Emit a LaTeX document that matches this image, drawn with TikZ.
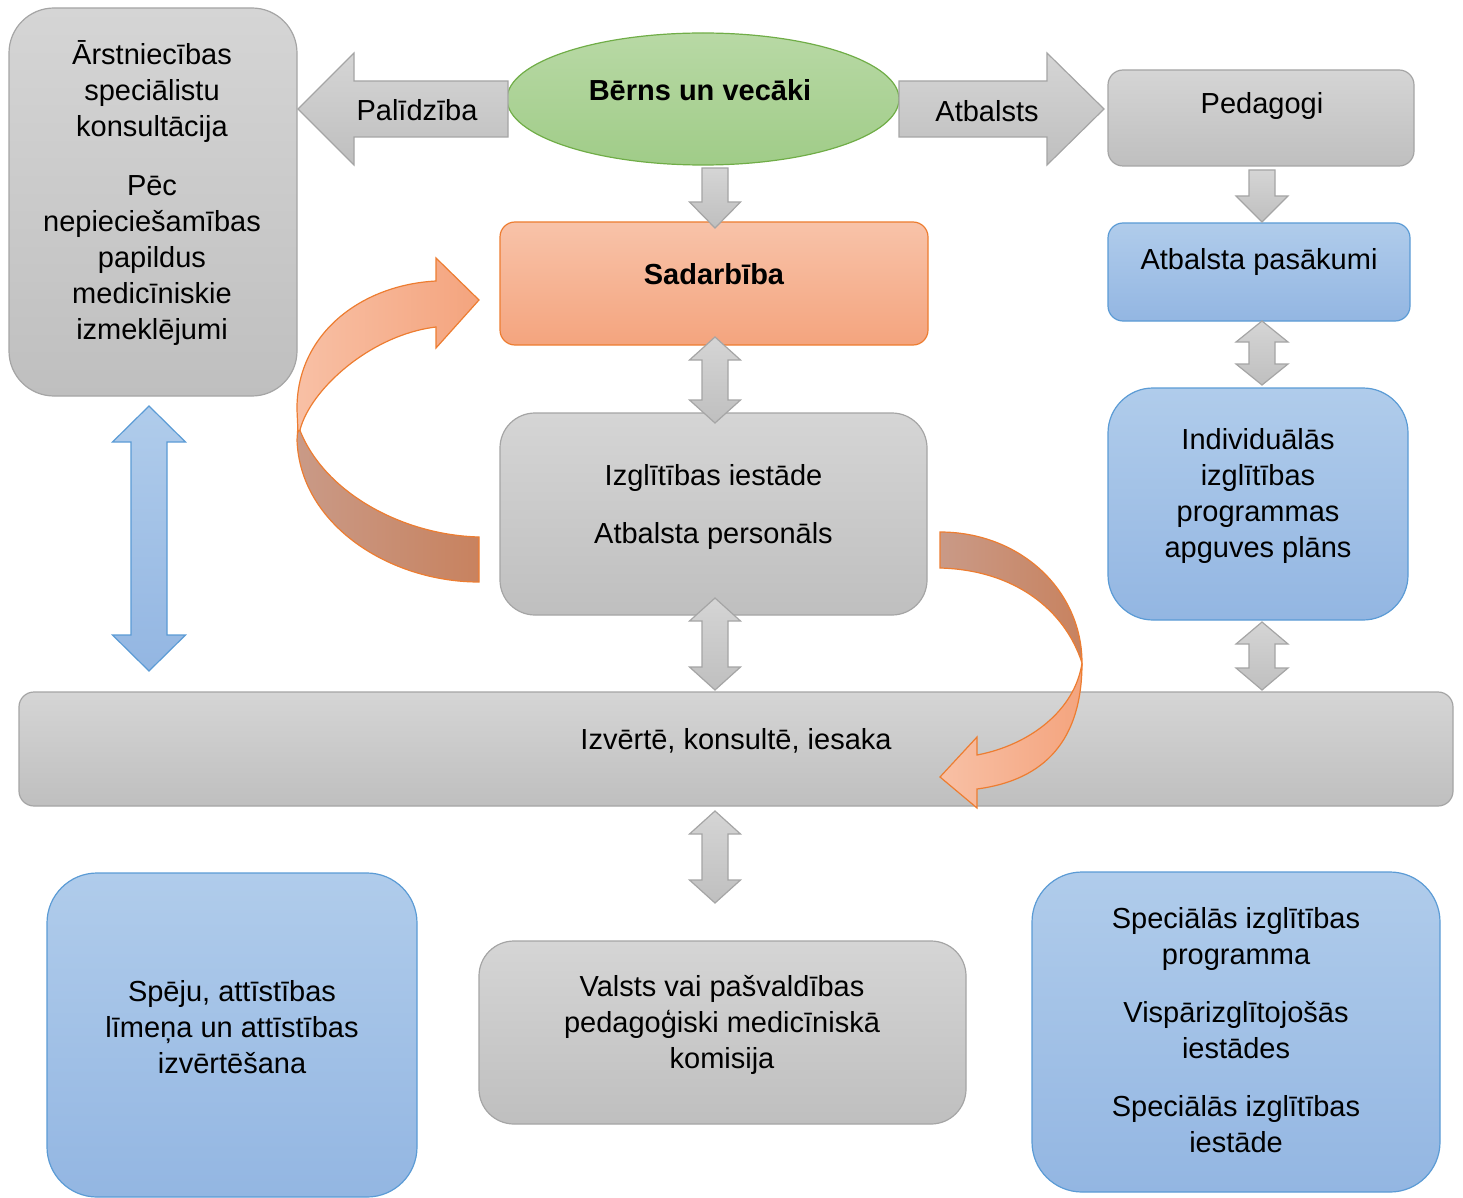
\documentclass[tikz,border=0pt]{standalone}
\usepackage{fontspec}
\setmainfont{Liberation Sans}
\usetikzlibrary{shapes.geometric}
\definecolor{gtop}{HTML}{D5D5D5}
\definecolor{gbot}{HTML}{BFBFBF}
\definecolor{gline}{HTML}{A5A5A5}
\definecolor{btop}{HTML}{B0CCEB}
\definecolor{bbot}{HTML}{93B6E2}
\definecolor{bline}{HTML}{5B9BD5}
\definecolor{otop}{HTML}{F8C3A9}
\definecolor{obot}{HTML}{F4A47E}
\definecolor{oline}{HTML}{ED7D31}
\definecolor{grtop}{HTML}{B8D9A5}
\definecolor{grbot}{HTML}{A0CC88}
\definecolor{grline}{HTML}{70AD47}
\definecolor{odl}{HTML}{C99A87}
\definecolor{odr}{HTML}{C8825F}
\definecolor{oll}{HTML}{F8C0A5}
\definecolor{olr}{HTML}{F4A47E}
\tikzset{
  graybox/.style={draw=gline, line width=1.2pt, top color=gtop, bottom color=gbot, rectangle, inner sep=0pt},
  bluebox/.style={draw=bline, line width=1.2pt, top color=btop, bottom color=bbot, rectangle, inner sep=0pt},
  orangebox/.style={draw=oline, line width=1.2pt, top color=otop, bottom color=obot, rectangle, inner sep=0pt},
  txt/.style={align=center, font=\fontsize{29}{36}\selectfont, inner sep=0pt},
  garrow/.style={draw=gline, line width=1.2pt, top color=gtop, bottom color=gbot},
  barrow/.style={draw=bline, line width=1.2pt, top color=btop, bottom color=bbot},
  cdark/.style={draw=oline, line width=1.2pt, left color=odl, right color=odr},
  clight/.style={draw=oline, line width=1.2pt, left color=oll, right color=olr}
}
% vertical double block arrow: style, x, ytop, ybottom, half shaft, half head, head length
\newcommand\vdarrow[7]{\draw[#1] (#2,#3) -- (#2+#6,#3+#7) -- (#2+#5,#3+#7) -- (#2+#5,#4-#7) -- (#2+#6,#4-#7) -- (#2,#4) -- (#2-#6,#4-#7) -- (#2-#5,#4-#7) -- (#2-#5,#3+#7) -- (#2-#6,#3+#7) -- cycle;}
\begin{document}
\begin{tikzpicture}[x=1pt,y=-1pt]
\useasboundingbox (0,0) rectangle (1463,1198);

% boxes
\node[graybox, minimum width=288pt, minimum height=388pt, rounded corners=45pt] (med) at (153,202) {};
\node[ellipse, draw=grline, line width=1.2pt, top color=grtop, bottom color=grbot, minimum width=392pt, minimum height=132pt, inner sep=0pt] (child) at (703,99) {};
\node[graybox, minimum width=306pt, minimum height=96pt, rounded corners=15pt] (ped) at (1261,118) {};
\node[bluebox, minimum width=302pt, minimum height=98pt, rounded corners=15pt] (atp) at (1259,272) {};
\node[bluebox, minimum width=300pt, minimum height=232pt, rounded corners=45pt] (ind) at (1258,504) {};
\node[orangebox, minimum width=428pt, minimum height=123pt, rounded corners=15pt] (sad) at (714,283.5) {};
\node[graybox, minimum width=427pt, minimum height=202pt, rounded corners=35pt] (izg) at (713.5,514) {};
\node[graybox, minimum width=1434pt, minimum height=114pt, rounded corners=15pt] (bar) at (736,749) {};
\node[bluebox, minimum width=370pt, minimum height=324pt, rounded corners=50pt] (spe) at (232,1035) {};
\node[graybox, minimum width=487pt, minimum height=183pt, rounded corners=35pt] (val) at (722.5,1032.5) {};
\node[bluebox, minimum width=408pt, minimum height=320pt, rounded corners=50pt] (spr) at (1236,1032) {};

% horizontal block arrows
\draw[garrow] (508,81) -- (354,81) -- (354,53) -- (298,109) -- (354,165) -- (354,137) -- (508,137) -- cycle;
\draw[garrow] (899,81) -- (1047,81) -- (1047,53) -- (1104,109) -- (1047,165) -- (1047,137) -- (899,137) -- cycle;

% down arrows
\draw[garrow] (702,168) -- (728,168) -- (728,202) -- (740.5,202) -- (715,228) -- (689.5,202) -- (702,202) -- cycle;
\draw[garrow] (1249,170) -- (1275,170) -- (1275,196) -- (1288,196) -- (1262,222) -- (1236,196) -- (1249,196) -- cycle;

% double arrows
\vdarrow{garrow}{715}{337}{423}{13}{25.5}{23}
\vdarrow{garrow}{715}{598}{690}{13}{25.5}{23}
\vdarrow{garrow}{715}{811}{903}{13}{25.5}{23}
\vdarrow{garrow}{1262}{321}{385}{13}{26}{21}
\vdarrow{garrow}{1262}{622}{690}{13}{26}{22}
\vdarrow{barrow}{149}{406}{671}{18}{36.5}{36}

% curved arrow left
\draw[cdark] (298,425) -- (297,440) .. controls (300,525) and (390,582) .. (479,582) -- (479,537) .. controls (400,535) and (320,490) .. (298,425) -- cycle;
\draw[clight] (298,432) -- (297,410) .. controls (296,335) and (360,285) .. (436,281) -- (436,258) -- (479,300) -- (436,348) -- (436,327) .. controls (370,335) and (310,390) .. (300,430) -- cycle;

% curved arrow right
\draw[cdark] (940,532) .. controls (1020,532) and (1082,590) .. (1082,663) .. controls (1065,610) and (1015,570) .. (940,568) -- cycle;
\draw[clight] (1082,663) .. controls (1082,740) and (1045,780) .. (977,789) -- (977,808) -- (940,777) -- (977,737) -- (977,755) .. controls (1030,745) and (1075,710) .. (1082,663) -- cycle;

% texts
\node[txt] (tmed) at (152,193) {Ārstniecības\\speciālistu\\konsultācija\\[23pt]Pēc\\nepieciešamības\\papildus\\medicīniskie\\izmeklējumi};
\node[txt] (tpal) at (417,110) {Palīdzība};
\node[txt] (tatb) at (987,111) {Atbalsts};
\node[txt, font=\fontsize{29}{36}\selectfont\bfseries] (tchild) at (700,90) {Bērns un vecāki};
\node[txt] (tped) at (1262,106) {Pedagogi};
\node[txt] (tatp) at (1259,262) {Atbalsta pasākumi};
\node[txt] (tind) at (1258,495.5) {Individuālās\\izglītības\\programmas\\apguves plāns};
\node[txt, font=\fontsize{29}{36}\selectfont\bfseries] (tsad) at (714,274) {Sadarbība};
\node[txt] (tizg) at (713.5,506.5) {Izglītības iestāde\\[22pt]Atbalsta personāls};
\node[txt] (tbar) at (736,741) {Izvērtē, konsultē, iesaka};
\node[txt] (tspe) at (232,1027.5) {Spēju, attīstības\\līmeņa un attīstības\\izvērtēšana};
\node[txt] (tval) at (722,1024.5) {Valsts vai pašvaldības\\pedagoģiski medicīniskā\\komisija};
\node[txt] (tspr) at (1236,1030) {Speciālās izglītības\\programma\\[22pt]Vispārizglītojošās\\iestādes\\[22pt]Speciālās izglītības\\iestāde};
\end{tikzpicture}
\end{document}
